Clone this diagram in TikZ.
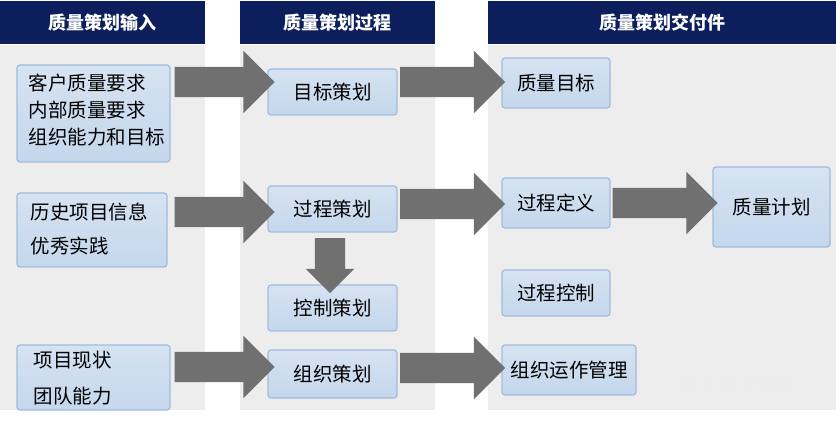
\documentclass[tikz,border=0pt]{standalone}
\usepackage{fontspec}
\setmainfont{Noto Sans CJK SC}
\usetikzlibrary{shapes.arrows}
\definecolor{navy}{RGB}{12,30,92}
\definecolor{colbg}{RGB}{237,237,237}
\definecolor{boxfill}{RGB}{196,215,236}
\definecolor{boxline}{RGB}{160,188,220}
\definecolor{arr}{RGB}{112,112,112}
\tikzset{
 hdr/.style={fill=navy,text=white,font=\bfseries\fontsize{18}{20}\selectfont,inner sep=0},
 box/.style={draw=boxline,line width=1.2pt,rounded corners=3pt,top color=boxfill!70!white,bottom color=boxfill,inner sep=0},
 txt/.style={font=\fontsize{19.5}{24}\selectfont,align=left},
 harr/.style={single arrow,fill=arr,draw=none,text height=0pt,text depth=0pt,text width=0pt,inner xsep=0pt,inner ysep=15pt,single arrow head extend=16pt,single arrow tip angle=90},
}
\begin{document}
\begin{tikzpicture}[x=1pt,y=-1pt]
\useasboundingbox (0,0) rectangle (836,422);
\fill[white] (0,0) rectangle (836,422);
% columns
\fill[colbg] (0,45) rectangle (205,410);
\fill[colbg] (240,45) rectangle (435,410);
\fill[colbg] (488,45) rectangle (836,410);
\node[hdr,minimum width=205pt,minimum height=43pt] (h1) at (102.5,22.5) {质量策划输入};
\node[hdr,minimum width=195pt,minimum height=43pt] (h2) at (337.5,22.5) {质量策划过程};
\node[hdr,minimum width=348pt,minimum height=43pt] (h3) at (662,22.5) {质量策划交付件};
% input boxes
\node[box,minimum width=153pt,minimum height=97pt] (i1) at (93.5,113.5) {};
\node[txt,anchor=west,font=\fontsize{19.5}{27}\selectfont] (i1t) at (25,110) {客户质量要求\\内部质量要求\\组织能力和目标};
\node[box,minimum width=150pt,minimum height=74pt] (i2) at (92,230) {};
\node[txt,anchor=west,font=\fontsize{19.5}{34}\selectfont] (i2t) at (27,229) {历史项目信息\\优秀实践};
\node[box,minimum width=153pt,minimum height=65pt] (i3) at (93.5,377.5) {};
\node[txt,anchor=west,font=\fontsize{19.5}{36}\selectfont] (i3t) at (30,378) {项目现状\\团队能力};
% process boxes
\node[box,minimum width=129pt,minimum height=46pt,txt] (p1) at (332.5,92) {目标策划};
\node[box,minimum width=129pt,minimum height=46pt,txt] (p2) at (332.5,209) {过程策划};
\node[box,minimum width=129pt,minimum height=46pt,txt] (p3) at (332.5,308) {控制策划};
\node[box,minimum width=129pt,minimum height=48pt,txt] (p4) at (332.5,374) {组织策划};
% deliverables
\node[box,minimum width=108pt,minimum height=50pt,txt] (d1) at (556,83) {质量目标};
\node[box,minimum width=108pt,minimum height=50pt,txt] (d2) at (556,203) {过程定义};
\node[box,minimum width=108pt,minimum height=46pt,txt] (d3) at (556,293) {过程控制};
\node[box,minimum width=134pt,minimum height=50pt,txt] (d4) at (569,370) {组织运作管理};
\node[box,minimum width=117pt,minimum height=80pt,txt] (q) at (771.5,207) {质量计划};
% arrows
\node[harr,minimum height=100pt] (a1) at (217,82) {};
\node[harr,minimum height=100pt] (a2) at (217,212) {};
\node[harr,minimum height=100pt] (a3) at (217,367) {};
\node[harr,minimum height=105pt] (a4) at (445,82) {};
\node[harr,minimum height=105pt] (a5) at (445,204) {};
\node[harr,minimum height=105pt] (a6) at (445,368) {};
\node[harr,minimum height=105pt] (a7) at (657.5,203) {};
\node[harr,minimum height=55pt,single arrow head extend=9pt,rotate=-90] (a8) at (330,258) {};
\node[text=white!85!gray,font=\fontsize{19}{22}\selectfont] (wm) at (737,384) {知乎 @王四海};
\end{tikzpicture}
\end{document}
